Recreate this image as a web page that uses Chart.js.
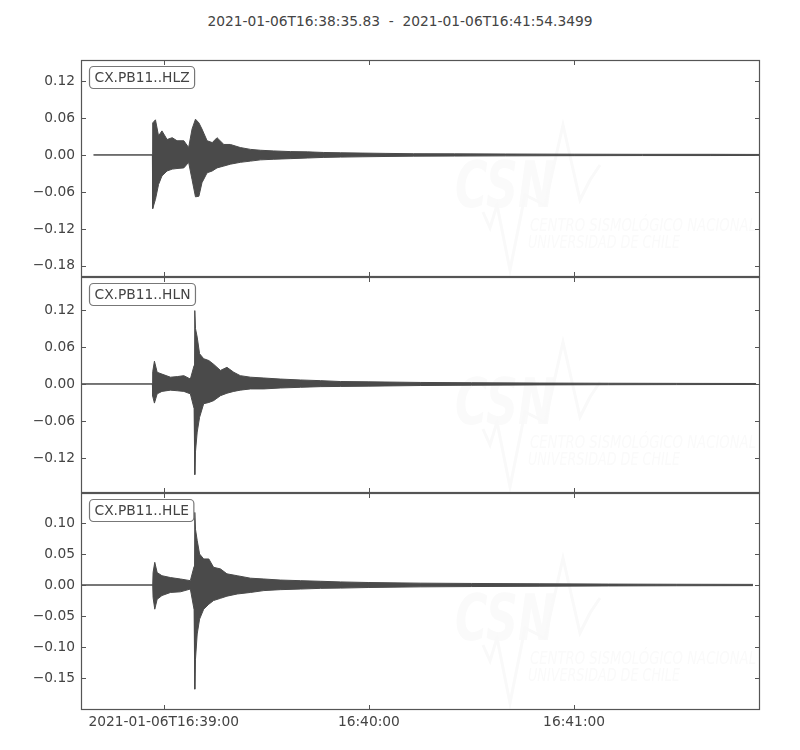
<!DOCTYPE html>
<html>
<head>
<meta charset="utf-8">
<script src="https://cdn.jsdelivr.net/npm/chart.js@4.4.0/dist/chart.umd.min.js"></script>
<style>
  body { margin: 0; background: #fff; }
  #wrap { position: relative; width: 800px; height: 750px; font-family: "DejaVu Sans", sans-serif; }
  #title { position: absolute; top: 13px; left: 0; width: 800px; line-height: 16px; text-align: center; font-size: 13.8px; color: #444; white-space: pre; }
  canvas { position: absolute; left: 0; }
</style>
</head>
<body>
<div id="wrap">
  <div id="title">2021-01-06T16:38:35.83  -  2021-01-06T16:41:54.3499</div>
  <canvas id="c1" width="800" height="257" style="top:40px"></canvas>
  <canvas id="c2" width="800" height="256" style="top:257px"></canvas>
  <canvas id="c3" width="800" height="277" style="top:473px"></canvas>
</div>
<script>
// time in seconds relative to 16:39:00
const xMin = -24.17;
const xMax = 174.35;
const xTickValues = [0, 60, 120];
const xTickLabels = ['2021-01-06T16:39:00', '16:40:00', '16:41:00'];

const traceNames = ['CX.PB11..HLZ', 'CX.PB11..HLN', 'CX.PB11..HLE'];

// envelope of each trace (max / min amplitude)
const hlzTime = [-20.5, -3.3, -3.2, -2.4, -1.5, -0.5, 1.0, 2.5, 3.9, 5.9, 7.3, 8.3, 9.3, 10.3, 11.2, 12.7, 14.2, 15.6, 17.6, 19.5, 22.4, 25.4, 28.3, 32.2, 37.1, 42, 46.8, 51.7, 58, 65, 73, 85, 100, 120, 140, 160, 174.35];
const hlzUpper = [0, 0, 0.052, 0.057, 0.031, 0.039, 0.025, 0.028, 0.023, 0.023, 0.012, 0.042, 0.058, 0.052, 0.042, 0.023, 0.020, 0.028, 0.017, 0.017, 0.012, 0.009, 0.0076, 0.0065, 0.0054, 0.005, 0.004, 0.0035, 0.003, 0.0025, 0.002, 0.0018, 0.0015, 0.0012, 0.001, 0.001, 0.0008];
const hlzLower = [0, 0, -0.087, -0.072, -0.048, -0.034, -0.026, -0.023, -0.022, -0.021, -0.012, -0.040, -0.068, -0.067, -0.045, -0.029, -0.026, -0.021, -0.018, -0.015, -0.012, -0.010, -0.008, -0.007, -0.006, -0.005, -0.004, -0.0035, -0.003, -0.0025, -0.002, -0.0018, -0.0015, -0.0012, -0.001, -0.001, -0.0008];

const hlnTime = [-24.17, -3.3, -3.2, -2.7, -1.9, -0.5, 2, 4, 5.9, 7.8, 8.9, 9.1, 9.3, 9.8, 10.5, 11.7, 13.2, 14.6, 16.6, 18.5, 20.5, 22.4, 25.4, 29.3, 34.1, 40, 45.9, 51.7, 60, 75, 90, 110, 130, 150, 173.2];
const hlnUpper = [0, 0, 0.02, 0.037, 0.019, 0.016, 0.011, 0.012, 0.0135, 0.008, 0.03, 0.119, 0.09, 0.076, 0.049, 0.041, 0.038, 0.032, 0.022, 0.027, 0.019, 0.0135, 0.011, 0.0097, 0.008, 0.0065, 0.0054, 0.004, 0.0035, 0.0025, 0.002, 0.0015, 0.0012, 0.001, 0.0008];
const hlnLower = [0, 0, -0.02, -0.031, -0.016, -0.012, -0.010, -0.011, -0.012, -0.016, -0.04, -0.147, -0.11, -0.078, -0.054, -0.032, -0.030, -0.027, -0.019, -0.015, -0.012, -0.010, -0.008, -0.008, -0.0065, -0.0054, -0.0043, -0.004, -0.0035, -0.0025, -0.002, -0.0015, -0.0012, -0.001, -0.0008];

const hleTime = [-24.17, -3.2, -3.1, -2.6, -1.9, -0.5, 2, 4.9, 7.8, 8.9, 9.1, 9.3, 9.8, 10.5, 11.7, 13.2, 14.6, 16.6, 18.5, 21.5, 25.4, 29.3, 34.1, 40, 45.9, 51.7, 60, 75, 90, 110, 130, 150, 172.3];
const hleUpper = [0, 0, 0.02, 0.0366, 0.020, 0.015, 0.012, 0.0097, 0.007, 0.03, 0.117, 0.09, 0.072, 0.050, 0.042, 0.042, 0.0285, 0.026, 0.018, 0.015, 0.011, 0.0097, 0.008, 0.007, 0.006, 0.005, 0.004, 0.003, 0.0025, 0.002, 0.0015, 0.0012, 0.001];
const hleLower = [0, 0, -0.02, -0.039, -0.023, -0.017, -0.012, -0.011, -0.0065, -0.04, -0.168, -0.12, -0.079, -0.055, -0.039, -0.031, -0.025, -0.0215, -0.018, -0.0145, -0.012, -0.009, -0.0075, -0.0065, -0.0054, -0.005, -0.004, -0.003, -0.0025, -0.002, -0.0015, -0.0012, -0.001];

const hlzYTicks = [-0.18, -0.12, -0.06, 0, 0.06, 0.12];
const hlnYTicks = [-0.12, -0.06, 0, 0.06, 0.12];
const hleYTicks = [-0.15, -0.10, -0.05, 0, 0.05, 0.10];

const traceColor = '#4a4a4a';
const textColor = '#444';
const frameColor = '#555';
const fontSize = 13.8;

function pts(t, v) {
  return t.map((x, i) => ({ x: x, y: v[i] }));
}

function fmt(v) {
  return v.toFixed(2).replace('-', '\u2212');
}

// faint CSN watermark, as on the original plot
function drawWatermark(ctx, area) {
  const oy = area.top - 60;
  ctx.save();
  ctx.fillStyle = '#fafafa';
  ctx.strokeStyle = '#f9f9f9';
  ctx.font = 'italic bold 64px "DejaVu Sans"';
  ctx.textBaseline = 'alphabetic';
  ctx.fillText('CSN', 455, 207 + oy, 100);
  ctx.font = 'italic 18px "DejaVu Sans"';
  ctx.fillText('CENTRO SISMOLÓGICO NACIONAL', 530, 231 + oy, 226);
  ctx.fillText('UNIVERSIDAD DE CHILE', 528, 248 + oy, 152);
  ctx.lineWidth = 3;
  ctx.beginPath();
  const w = [[483, 212], [490, 228], [497, 205], [510, 270], [525, 195], [545, 205], [563, 125], [580, 200], [590, 180], [600, 165]];
  w.forEach((p, i) => i ? ctx.lineTo(p[0], p[1] + oy) : ctx.moveTo(p[0], p[1] + oy));
  ctx.stroke();
  ctx.restore();
}

const framePlugin = {
  id: 'frame',
  beforeDatasetsDraw(chart) {
    drawWatermark(chart.ctx, chart.chartArea);
  },
  afterDatasetsDraw(chart, args, opts) {
    const ctx = chart.ctx;
    const a = chart.chartArea;
    const xs = chart.scales.x, ys = chart.scales.y;
    ctx.save();
    ctx.strokeStyle = frameColor;
    ctx.lineWidth = 1.2;
    ctx.strokeRect(a.left + 0.5, a.top + 0.5, a.right - a.left - 1, a.bottom - a.top - 1);
    ctx.lineWidth = 1;
    ctx.beginPath();
    xTickValues.forEach(v => {
      const px = Math.round(xs.getPixelForValue(v)) + 0.5;
      ctx.moveTo(px, a.top); ctx.lineTo(px, a.top + 5);
      ctx.moveTo(px, a.bottom); ctx.lineTo(px, a.bottom - 5);
    });
    opts.yTicks.forEach(v => {
      const py = Math.round(ys.getPixelForValue(v)) + 0.5;
      ctx.moveTo(a.left, py); ctx.lineTo(a.left + 5, py);
      ctx.moveTo(a.right, py); ctx.lineTo(a.right - 5, py);
    });
    ctx.stroke();

    // trace name box
    ctx.font = fontSize + 'px "DejaVu Sans"';
    const tw = ctx.measureText(opts.name).width;
    const bx = a.left + 8.5, by = a.top + 6.5, bw = tw + 10, bh = 22;
    ctx.fillStyle = '#fff';
    ctx.strokeStyle = '#777';
    ctx.lineWidth = 1.2;
    ctx.beginPath();
    ctx.roundRect(bx, by, bw, bh, 4);
    ctx.fill();
    ctx.stroke();
    ctx.fillStyle = textColor;
    ctx.textBaseline = 'middle';
    ctx.fillText(opts.name, bx + 5, by + bh / 2 + 0.5);
    ctx.restore();
  }
};

function makePanel(id, name, t, up, lo, yMin, yMax, yTicks, showX, padTop, padBottom) {
  return new Chart(document.getElementById(id), {
    type: 'line',
    data: {
      datasets: [
        { data: pts(t, up), borderColor: traceColor, borderWidth: 1, pointRadius: 0, fill: false },
        { data: pts(t, lo), borderColor: traceColor, backgroundColor: traceColor, borderWidth: 1, pointRadius: 0, fill: '-1' }
      ]
    },
    options: {
      responsive: false,
      animation: false,
      events: [],
      layout: { padding: { left: 0, right: 40, top: padTop, bottom: padBottom } },
      plugins: {
        legend: { display: false },
        tooltip: { enabled: false },
        frame: { name: name, yTicks: yTicks }
      },
      scales: {
        x: {
          type: 'linear',
          min: xMin,
          max: xMax,
          display: showX,
          afterBuildTicks: s => { s.ticks = xTickValues.map(v => ({ value: v })); },
          afterFit: s => { if (showX) s.height = 40; },
          grid: { drawOnChartArea: false, drawTicks: false },
          border: { display: false },
          ticks: {
            autoSkip: false,
            maxRotation: 0,
            padding: 4,
            color: textColor,
            font: { family: 'DejaVu Sans', size: fontSize },
            callback: v => xTickLabels[xTickValues.indexOf(v)]
          }
        },
        y: {
          min: yMin,
          max: yMax,
          afterBuildTicks: s => { s.ticks = yTicks.map(v => ({ value: v })); },
          afterFit: s => { s.width = 81; },
          grid: { drawOnChartArea: false, drawTicks: false },
          border: { display: false },
          ticks: {
            autoSkip: false,
            padding: 6,
            color: textColor,
            font: { family: 'DejaVu Sans', size: fontSize },
            callback: v => fmt(v)
          }
        }
      }
    },
    plugins: [framePlugin]
  });
}

makePanel('c1', traceNames[0], hlzTime, hlzUpper, hlzLower, -0.198, 0.154, hlzYTicks, false, 20, 20);
makePanel('c2', traceNames[1], hlnTime, hlnUpper, hlnLower, -0.1768, 0.1735, hlnYTicks, false, 20, 20);
makePanel('c3', traceNames[2], hleTime, hleUpper, hleLower, -0.2016, 0.1484, hleYTicks, true, 20, 0);
</script>
</body>
</html>
